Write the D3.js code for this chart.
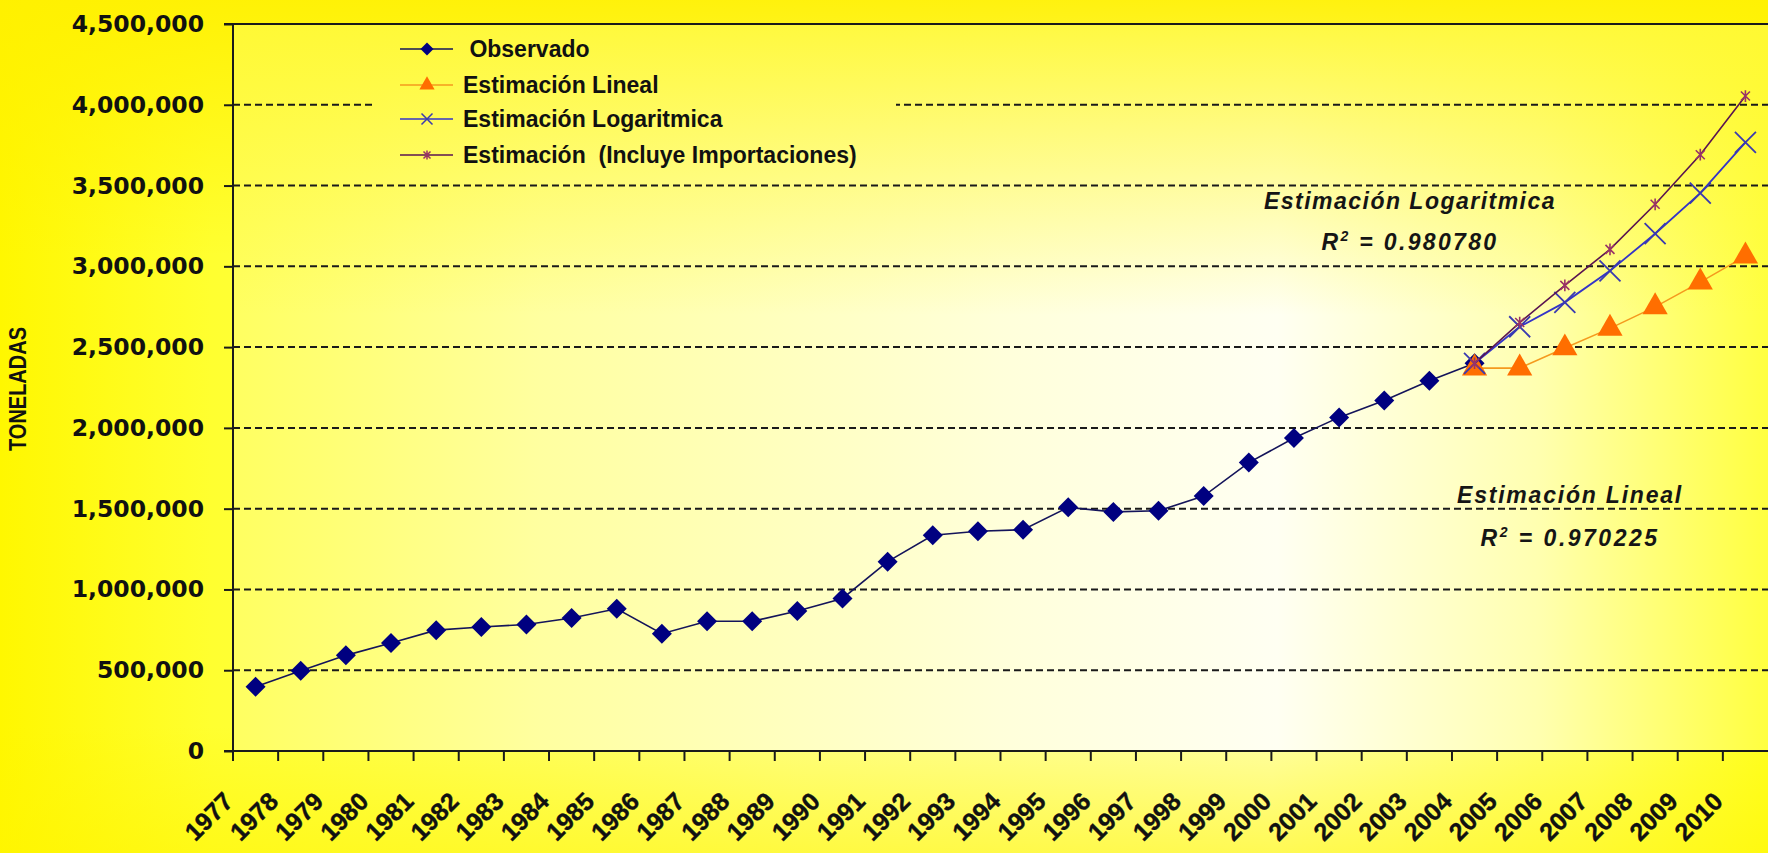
<!DOCTYPE html>
<html><head><meta charset="utf-8">
<script src="https://cdn.jsdelivr.net/npm/d3@7"></script>
<style>html,body{margin:0;padding:0;overflow:hidden;background:#FFFF40}</style>
</head><body>
<svg id="c" width="1768" height="853"></svg>
<script>
const years = ["1977","1978","1979","1980","1981","1982","1983","1984","1985","1986","1987","1988","1989","1990","1991","1992","1993","1994","1995","1996","1997","1998","1999","2000","2001","2002","2003","2004","2005","2006","2007","2008","2009","2010"];
const observedYears = ["1977","1978","1979","1980","1981","1982","1983","1984","1985","1986","1987","1988","1989","1990","1991","1992","1993","1994","1995","1996","1997","1998","1999","2000","2001","2002","2003","2004"];
const observado = [398000,497000,592000,668000,748000,768000,783000,823000,880000,726000,803000,803000,866000,944000,1172000,1335000,1360000,1370000,1508000,1480000,1487000,1578000,1785000,1937000,2065000,2170000,2292000,2400000];
const forecastYears = ["2004","2005","2006","2007","2008","2009","2010"];
const lineal = [2370000,2370000,2494000,2616000,2749000,2902000,3063000];
const logaritmica = [2400000,2626000,2777000,2972000,3202000,3453000,3767000];
const importaciones = [2400000,2652000,2882000,3105000,3384000,3691000,4054000];
const yTicks = [0,500000,1000000,1500000,2000000,2500000,3000000,3500000,4000000,4500000];
const legendNames = [" Observado","Estimación Lineal","Estimación Logaritmica","Estimación  (Incluye Importaciones)"];
const yTitle = "TONELADAS";

const W = 1768, H = 853;
const L = 233, R = 1768, T = 24, B = 751;
const svg = d3.select("#c");
const defs = svg.append("defs");
function lin(id, x1, y1, x2, y2, stops){
  const g = defs.append("linearGradient").attr("id", id).attr("gradientUnits","userSpaceOnUse")
    .attr("x1",x1).attr("y1",y1).attr("x2",x2).attr("y2",y2);
  stops.forEach(s => g.append("stop").attr("offset", s[0]).attr("stop-color", s[1]).attr("stop-opacity", s[2] == null ? 1 : s[2]));
}
lin("outerG",0,0,W,0,[[0,"#FFF700"],[0.12,"#FFFF30"],[0.45,"#FFFF80"],[0.72,"#FFFFA8"],[0.9,"#FFFF60"],[1,"#FFFF20"]]);
lin("outerV",0,0,0,H,[[0,"#FFF000",0.9],[0.3,"#FFF000",0],[0.85,"#FFF400",0],[1,"#FFF400",0.5]]);
lin("plotG",L,0,R,0,[[0,"#FFFF60"],[0.2,"#FFFFA0"],[0.5,"#FFFFDA"],[0.68,"#FFFFF2"],[0.85,"#FFFFB0"],[1,"#FFFF40"]]);
lin("plotV",0,T,0,B,[[0,"#FFF830",0.9],[0.4,"#FFF830",0]]);

svg.append("rect").attr("width",W).attr("height",H).attr("fill","url(#outerG)");
svg.append("rect").attr("width",W).attr("height",H).attr("fill","url(#outerV)");

const x = d3.scaleBand().domain(years).range([L, R]);
const y = d3.scaleLinear().domain([0, 4500000]).range([B, T]);
const cx = d => x(d) + x.bandwidth()/2;

function plotBg(g, x0, y0, w, h){
  g.append("rect").attr("x",x0).attr("y",y0).attr("width",w).attr("height",h).attr("fill","url(#plotG)");
  g.append("rect").attr("x",x0).attr("y",y0).attr("width",w).attr("height",h).attr("fill","url(#plotV)");
}
plotBg(svg, L, T, R-L, B-T);

// gridlines
svg.append("g").selectAll("line").data(yTicks.filter(v => v > 0 && v < 4500000)).join("line")
  .attr("x1", L).attr("x2", R).attr("y1", d => y(d)).attr("y2", d => y(d))
  .attr("stroke","#1a1a1a").attr("stroke-width",2).attr("stroke-dasharray","7,4");

// legend background (opaque, hides gridline)
const lg = svg.append("g");
plotBg(lg, 376, 27, 520, 146);

// y axis
const yAxis = svg.append("g").attr("transform",`translate(${L},0)`)
  .call(d3.axisLeft(y).tickValues(yTicks).tickSize(9).tickPadding(20).tickFormat(d3.format(",")));
yAxis.select(".domain").remove();
yAxis.selectAll(".tick line").attr("stroke","#1a1a1a").attr("stroke-width",2);
yAxis.selectAll(".tick text").attr("fill","#111").style("font-family","'DejaVu Sans', sans-serif")
  .style("font-weight","bold").style("font-size","23.5px");

// axes lines
svg.append("line").attr("x1",L).attr("x2",L).attr("y1",T).attr("y2",B).attr("stroke","#1a1a1a").attr("stroke-width",2);
svg.append("line").attr("x1",L-9).attr("x2",R).attr("y1",B).attr("y2",B).attr("stroke","#1a1a1a").attr("stroke-width",2);
svg.append("line").attr("x1",L-9).attr("x2",R).attr("y1",T).attr("y2",T).attr("stroke","#1a1a1a").attr("stroke-width",2);

// x ticks at band boundaries
svg.append("g").selectAll("line").data(years).join("line")
  .attr("x1", d => x(d)).attr("x2", d => x(d)).attr("y1", B).attr("y2", B+10)
  .attr("stroke","#1a1a1a").attr("stroke-width",2);
// x labels
svg.append("g").selectAll("text").data(years).join("text")
  .attr("transform", d => `translate(${cx(d)-21},803) rotate(-45)`)
  .attr("text-anchor","end").attr("fill","#111").attr("stroke","#111").attr("stroke-width",0.4)
  .style("font-family","'Liberation Sans', Arial, sans-serif").style("font-weight","bold").style("font-size","25px")
  .text(d => d);

// y title
svg.append("text").attr("transform","translate(26,389) rotate(-90)").attr("text-anchor","middle")
  .attr("fill","#111").style("font-family","'Liberation Sans', Arial, sans-serif").style("font-weight","bold")
  .style("font-size","23px").attr("textLength",124).attr("lengthAdjust","spacingAndGlyphs").text(yTitle);

// series
const lineGen = (xs, vs) => d3.line().x((d,i) => cx(xs[i])).y(d => y(d))(vs);
const diamond = d3.symbol().type(d3.symbolSquare).size(200)();
const tri = d3.symbol().type(d3.symbolTriangle).size(275)();
const xMark = s => `M${-s},${-s}L${s},${s}M${-s},${s}L${s},${-s}`;
const starMark = s => `M${-s},${-s}L${s},${s}M${-s},${s}L${s},${-s}M0,${-s*1.3}L0,${s*1.3}`;

// Observado
svg.append("path").attr("d", lineGen(observedYears, observado)).attr("fill","none").attr("stroke","#14145a").attr("stroke-width",1.6);
svg.append("g").selectAll("path").data(observado).join("path")
  .attr("transform",(d,i)=>`translate(${cx(observedYears[i])},${y(d)}) rotate(45)`).attr("d",diamond).attr("fill","#000080");
// Lineal
svg.append("path").attr("d", lineGen(forecastYears, lineal)).attr("fill","none").attr("stroke","#F59A1E").attr("stroke-width",1.6);
svg.append("g").selectAll("path").data(lineal).join("path")
  .attr("transform",(d,i)=>`translate(${cx(forecastYears[i])},${y(d)})`).attr("d",tri).attr("fill","#FF6E00");
// Logaritmica
svg.append("path").attr("d", lineGen(forecastYears, logaritmica)).attr("fill","none").attr("stroke","#3434C8").attr("stroke-width",1.8);
svg.append("g").selectAll("path").data(logaritmica).join("path")
  .attr("transform",(d,i)=>`translate(${cx(forecastYears[i])},${y(d)})`).attr("d",xMark(10.5)).attr("fill","none").attr("stroke","#3a3ab0").attr("stroke-width",1.8);
// Importaciones
svg.append("path").attr("d", lineGen(forecastYears, importaciones)).attr("fill","none").attr("stroke","#5a1450").attr("stroke-width",1.6);
svg.append("g").selectAll("path").data(importaciones).join("path")
  .attr("transform",(d,i)=>`translate(${cx(forecastYears[i])},${y(d)})`).attr("d",starMark(4.5)).attr("fill","none").attr("stroke","#993366").attr("stroke-width",1.6);

// legend
const legY = [49, 85, 119, 155];
const legStyles = [
  {stroke:"#14145a", mark: g => g.append("path").attr("d", d3.symbol().type(d3.symbolSquare).size(84)()).attr("transform","rotate(45)").attr("fill","#000080")},
  {stroke:"#F59A1E", mark: g => g.append("path").attr("d", d3.symbol().type(d3.symbolTriangle).size(100)()).attr("fill","#FF6E00")},
  {stroke:"#3434C8", mark: g => g.append("path").attr("d", xMark(5.5)).attr("stroke","#3a3ab0").attr("stroke-width",1.5).attr("fill","none")},
  {stroke:"#5a1450", mark: g => g.append("path").attr("d", starMark(3.5)).attr("stroke","#993366").attr("stroke-width",1.5).attr("fill","none")}
];
legendNames.forEach((n,i) => {
  const g = lg.append("g").attr("transform",`translate(0,${legY[i]})`);
  g.append("line").attr("x1",400).attr("x2",453).attr("y1",0).attr("y2",0).attr("stroke",legStyles[i].stroke).attr("stroke-width",1.6);
  legStyles[i].mark(g.append("g").attr("transform","translate(427,0)"));
  g.append("text").attr("x",463).attr("y",8).attr("fill","#111").style("white-space","pre")
    .style("font-family","'Liberation Sans', Arial, sans-serif").style("font-weight","bold").style("font-size","23px").text(n);
});

// annotations
function annot(cxp, y1, y2, title, r2){
  const font = t => t.style("font-family","'Liberation Sans', Arial, sans-serif").style("font-weight","bold").style("font-style","italic").attr("fill","#151515");
  const t1 = font(svg.append("text").attr("x",cxp).attr("y",y1).attr("text-anchor","middle").style("font-size","23px")).text(title);
  const t2 = font(svg.append("text").attr("x",cxp).attr("y",y2).attr("text-anchor","middle").style("font-size","23px"));
  t2.append("tspan").text("R");
  t2.append("tspan").attr("dy",-9).style("font-size","14px").text("2");
  t2.append("tspan").attr("dy",9).style("white-space","pre").text(" = " + r2);
  return [t1, t2];
}
function spaceTo(t, target){
  const w = t.node().getComputedTextLength();
  const n = t.text().length;
  t.style("letter-spacing", ((target - w) / n) + "px");
}
const a1 = annot(1410, 209, 250, "Estimación Logaritmica", "0.980780");
const a2 = annot(1570, 503, 546, "Estimación Lineal", "0.970225");
spaceTo(a1[0], 292); spaceTo(a1[1], 177);
spaceTo(a2[0], 226); spaceTo(a2[1], 179);
</script>
</body></html>
